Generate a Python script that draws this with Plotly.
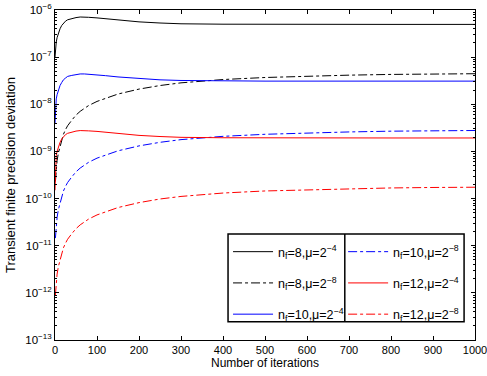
import plotly.graph_objects as go

# iteration grids
iter_solid = [0, 1, 2, 3, 5, 8, 12, 16, 20, 25, 30, 40, 50, 60, 70, 80, 100, 120, 150,
              200, 250, 300, 400, 500, 600, 700, 800, 900, 1000]
iter_dd = [1, 2, 3, 5, 8, 12, 16, 20, 25, 30, 40, 50, 60, 70, 80, 100, 120, 150,
           200, 250, 300, 400, 500, 600, 700, 800, 900, 1000]

# n_f=8, mu=2^-4
nf8_mu4 = [1.0e-7, 1.4e-7, 1.8e-7, 2.1e-7, 2.6e-7, 3.2e-7, 4.0e-7, 4.7e-7, 5.3e-7, 5.8e-7,
           6.2e-7, 6.6e-7, 6.9e-7, 7.1e-7, 7.1e-7, 7.0e-7, 6.8e-7, 6.5e-7, 6.1e-7, 5.6e-7,
           5.3e-7, 5.1e-7, 5.0e-7, 4.95e-7, 4.95e-7, 4.95e-7, 4.95e-7, 4.95e-7, 4.95e-7]
# n_f=10, mu=2^-4
nf10_mu4 = [4.0e-9, 8.0e-9, 1.1e-8, 1.3e-8, 1.6e-8, 2.0e-8, 2.5e-8, 2.9e-8, 3.3e-8, 3.6e-8,
            3.9e-8, 4.1e-8, 4.3e-8, 4.4e-8, 4.4e-8, 4.35e-8, 4.25e-8, 4.05e-8, 3.8e-8, 3.5e-8,
            3.3e-8, 3.2e-8, 3.12e-8, 3.1e-8, 3.1e-8, 3.1e-8, 3.1e-8, 3.1e-8, 3.1e-8]
# n_f=12, mu=2^-4
nf12_mu4 = [1.5e-10, 5.5e-10, 7.0e-10, 8.2e-10, 1.0e-9, 1.25e-9, 1.56e-9, 1.84e-9, 2.07e-9,
            2.27e-9, 2.42e-9, 2.58e-9, 2.7e-9, 2.77e-9, 2.77e-9, 2.73e-9, 2.66e-9, 2.54e-9,
            2.38e-9, 2.19e-9, 2.07e-9, 1.99e-9, 1.95e-9, 1.93e-9, 1.93e-9, 1.93e-9, 1.93e-9,
            1.93e-9, 1.93e-9]
# n_f=8, mu=2^-8
nf8_mu8 = [2.3e-10, 3.3e-10, 4.4e-10, 6.4e-10, 9.2e-10, 1.3e-9, 1.8e-9, 2.3e-9, 2.9e-9,
           3.5e-9, 4.6e-9, 5.9e-9, 7.1e-9, 8.3e-9, 9.4e-9, 1.15e-8, 1.33e-8, 1.65e-8, 2.1e-8,
           2.5e-8, 2.85e-8, 3.35e-8, 3.7e-8, 3.95e-8, 4.15e-8, 4.3e-8, 4.4e-8, 4.45e-8]
# n_f=10, mu=2^-8
nf10_mu8 = [1.45e-11, 2.1e-11, 2.75e-11, 4.0e-11, 5.8e-11, 8.1e-11, 1.13e-10, 1.44e-10,
            1.81e-10, 2.19e-10, 2.88e-10, 3.69e-10, 4.44e-10, 5.19e-10, 5.88e-10, 7.2e-10,
            8.3e-10, 1.03e-9, 1.31e-9, 1.56e-9, 1.78e-9, 2.09e-9, 2.31e-9, 2.47e-9, 2.59e-9,
            2.69e-9, 2.75e-9, 2.78e-9]
# n_f=12, mu=2^-8
nf12_mu8 = [9.0e-13, 1.3e-12, 1.7e-12, 2.5e-12, 3.6e-12, 5.1e-12, 7.0e-12, 9.0e-12, 1.13e-11,
            1.37e-11, 1.8e-11, 2.3e-11, 2.77e-11, 3.24e-11, 3.67e-11, 4.5e-11, 5.2e-11, 6.45e-11,
            8.2e-11, 9.8e-11, 1.11e-10, 1.31e-10, 1.45e-10, 1.54e-10, 1.62e-10, 1.68e-10,
            1.72e-10, 1.74e-10]

x_ticks = [0, 100, 200, 300, 400, 500, 600, 700, 800, 900, 1000]
y_exps = [-13, -12, -11, -10, -9, -8, -7, -6]
y_ticks = [10.0 ** e for e in y_exps]
y_ticktext = ["10<sup>\u2212%d</sup>" % (-e) for e in y_exps]

font = "Liberation Sans, Arial, sans-serif"

series = [
    ("n<sub>f</sub>=8,\u03bc=2<sup>\u22124</sup>", iter_solid, nf8_mu4, "black", "solid", "legend"),
    ("n<sub>f</sub>=8,\u03bc=2<sup>\u22128</sup>", iter_dd, nf8_mu8, "black", "dashdot", "legend"),
    ("n<sub>f</sub>=10,\u03bc=2<sup>\u22124</sup>", iter_solid, nf10_mu4, "blue", "solid", "legend"),
    ("n<sub>f</sub>=10,\u03bc=2<sup>\u22128</sup>", iter_dd, nf10_mu8, "blue", "dashdot", "legend2"),
    ("n<sub>f</sub>=12,\u03bc=2<sup>\u22124</sup>", iter_solid, nf12_mu4, "red", "solid", "legend2"),
    ("n<sub>f</sub>=12,\u03bc=2<sup>\u22128</sup>", iter_dd, nf12_mu8, "red", "dashdot", "legend2"),
]

fig = go.Figure()
for i, (name, xs, ys, col, dash, leg) in enumerate(series):
    fig.add_trace(go.Scatter(x=xs, y=ys, mode="lines", name=name,
                             line=dict(color=col, width=1, dash=dash),
                             legend=leg, legendgroup="g%d" % i))

axis_common = dict(showline=True, linecolor="black", linewidth=1, mirror="allticks",
                   ticks="inside", tickcolor="black", showgrid=False, zeroline=False,
                   automargin=False)

fig.update_xaxes(range=[0, 1000], tickvals=x_ticks, ticklen=4, ticklabeloverflow="allow",
                 tickfont=dict(family=font, size=11, color="black"),
                 title=dict(text="Number of iterations", font=dict(family=font, size=12, color="black"),
                            standoff=1),
                 **axis_common)
fig.update_yaxes(type="log", range=[-13, -6], tickvals=y_ticks, ticktext=y_ticktext, ticklen=4,
                 tickfont=dict(family=font, size=11.5, color="black"),
                 minor=dict(ticks="inside", ticklen=2, tickcolor="black", dtick="D1"),
                 title=dict(text="Transient finite precision deviation",
                            font=dict(family=font, size=13, color="black"), standoff=6),
                 **axis_common)

leg_common = dict(bgcolor="rgba(0,0,0,0)", borderwidth=0, font=dict(family=font, size=12.5, color="black"),
                  tracegroupgap=12, xanchor="left", yanchor="top", itemwidth=40)
fig.update_layout(
    width=487, height=376,
    margin=dict(l=55, r=12, t=10, b=36),
    paper_bgcolor="white", plot_bgcolor="white",
    font=dict(family=font, size=11, color="black"),
    legend=dict(x=0.412, y=0.312, **leg_common),
    legend2=dict(x=0.686, y=0.312, **leg_common),
    shapes=[
        dict(type="rect", xref="paper", yref="paper", x0=0.412, x1=0.974, y0=0.055, y1=0.321,
             line=dict(color="black", width=1.5), fillcolor="white", layer="below"),
        dict(type="line", xref="paper", yref="paper", x0=0.690, x1=0.690, y0=0.055, y1=0.321,
             line=dict(color="black", width=1.5)),
    ],
)

fig.write_html("out.html", config={"displayModeBar": False},
               post_script="document.body.style.margin='0px';")
